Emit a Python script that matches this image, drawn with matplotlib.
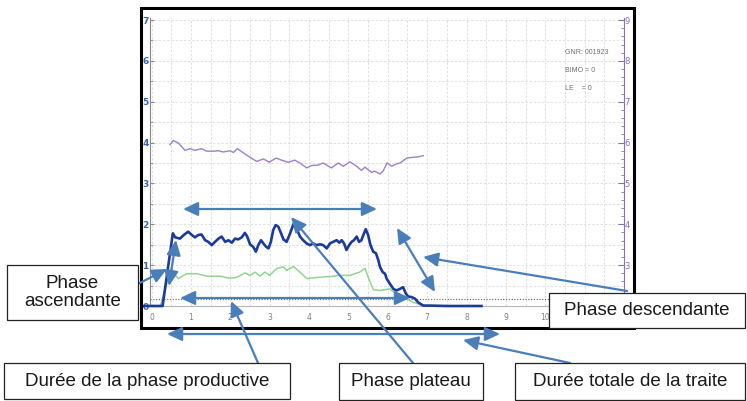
import matplotlib
matplotlib.use("Agg")
import matplotlib.pyplot as plt
from matplotlib.transforms import Affine2D
from matplotlib.patches import FancyArrowPatch, Rectangle

# ---------------- data ----------------
blue_x = [-0.22, 0.28, 0.54, 0.60, 0.72, 0.82, 0.93, 1.02, 1.10, 1.19, 1.27, 1.36, 1.44,
          1.53, 1.61, 1.70, 1.78, 1.87, 1.95, 2.04, 2.12, 2.20, 2.29, 2.37, 2.43, 2.50,
          2.58, 2.65, 2.71, 2.78, 2.84, 2.91, 2.97, 3.03, 3.09, 3.15, 3.22, 3.28, 3.35,
          3.43, 3.52, 3.60, 3.69, 3.77, 3.85, 3.94, 4.02, 4.11, 4.19, 4.28, 4.36, 4.45,
          4.53, 4.61, 4.70, 4.77, 4.83, 4.89, 4.95, 5.02, 5.08, 5.14, 5.21, 5.27, 5.33,
          5.38, 5.44, 5.50, 5.56, 5.63, 5.70, 5.76, 5.80, 5.87, 5.93, 5.97, 6.05, 6.14,
          6.22, 6.31, 6.39, 6.46, 6.52, 6.60, 6.69, 6.77, 6.90, 7.07, 7.49, 8.38]
blue_y = [0.00, 0.00, 1.78, 1.68, 1.65, 1.74, 1.82, 1.74, 1.68, 1.74, 1.75, 1.61, 1.57,
          1.49, 1.57, 1.65, 1.70, 1.57, 1.61, 1.55, 1.65, 1.63, 1.68, 1.79, 1.70, 1.51,
          1.45, 1.33, 1.49, 1.61, 1.53, 1.45, 1.41, 1.57, 1.86, 1.98, 1.94, 1.80, 1.63,
          1.57, 1.78, 2.00, 1.88, 1.70, 1.61, 1.53, 1.49, 1.53, 1.49, 1.51, 1.49, 1.41,
          1.53, 1.57, 1.61, 1.55, 1.61, 1.53, 1.37, 1.49, 1.57, 1.61, 1.70, 1.57, 1.61,
          1.74, 1.88, 1.74, 1.49, 1.33, 1.29, 1.12, 0.96, 0.83, 0.79, 0.67, 0.55, 0.42,
          0.38, 0.42, 0.46, 0.30, 0.23, 0.22, 0.18, 0.09, 0.01, 0.01, 0.00, 0.00]

green_x = [0.00, 0.22, 0.50, 0.60, 0.68, 0.89, 1.15, 1.40, 1.74, 1.99, 2.16, 2.37, 2.50,
           2.63, 2.75, 2.88, 3.00, 3.18, 3.35, 3.43, 3.60, 3.77, 3.94, 4.11, 4.36, 4.53,
           4.78, 5.04, 5.29, 5.42, 5.50, 5.63, 5.80, 6.05, 6.26, 6.48, 6.64, 6.81, 6.98]
green_y = [0.00, 0.00, 0.92, 0.75, 0.67, 0.79, 0.79, 0.73, 0.73, 0.68, 0.70, 0.81, 0.75,
           0.83, 0.73, 0.83, 0.75, 0.92, 0.96, 0.87, 0.97, 0.83, 0.67, 0.69, 0.71, 0.72,
           0.75, 0.75, 0.83, 0.92, 0.71, 0.40, 0.38, 0.42, 0.26, 0.18, 0.09, 0.04, 0.00]

purple_x = [0.47, 0.55, 0.68, 0.85, 0.98, 1.10, 1.27, 1.40, 1.57, 1.70, 1.82, 1.99, 2.08,
            2.18, 2.33, 2.50, 2.67, 2.84, 2.99, 3.16, 3.30, 3.47, 3.64, 3.77, 3.94, 4.07,
            4.23, 4.36, 4.57, 4.74, 4.87, 5.04, 5.21, 5.33, 5.42, 5.59, 5.67, 5.80, 5.88,
            5.98, 6.10, 6.22, 6.31, 6.48, 6.64, 6.77, 6.90]
purple_y = [3.95, 4.05, 3.99, 3.81, 3.85, 3.81, 3.85, 3.79, 3.79, 3.80, 3.77, 3.80, 3.76,
            3.85, 3.75, 3.64, 3.54, 3.60, 3.52, 3.62, 3.57, 3.52, 3.57, 3.50, 3.38, 3.44,
            3.45, 3.50, 3.38, 3.50, 3.42, 3.53, 3.42, 3.32, 3.40, 3.27, 3.30, 3.23, 3.30,
            3.50, 3.42, 3.48, 3.50, 3.62, 3.64, 3.65, 3.68]

threshold = 0.18
x_ticks = list(range(0, 11))
x_grid = [v / 2 for v in range(0, 24)]
left_ticks = list(range(0, 8))
right_ticks = list(range(3, 10))
info_lines = ["GNR: 001923", "BIMO = 0", "LE    = 0"]

box_labels = ["Phase\nascendante", "Durée de la phase productive", "Phase plateau",
              "Durée totale de la traite", "Phase descendante"]

# ---------------- layout ----------------
W, H = 747, 401
fig = plt.figure(figsize=(W / 100, H / 100), dpi=100)
fig.patch.set_facecolor("white")
px = Affine2D().scale(1 / W, -1 / H).translate(0, 1) + fig.transFigure

ax_l, ax_r, ax_t, ax_b = 150, 624, 18, 306
ax = fig.add_axes([ax_l / W, 1 - ax_b / H, (ax_r - ax_l) / W, (ax_b - ax_t) / H])
ax.set_xlim(-0.04, 12.0)
ax.set_ylim(0, 7.05)

grid_kw = dict(color="#dadada", lw=0.6, ls=(0, (3, 2)))
ax.set_xticks(x_ticks)
ax.set_xticks(x_grid, minor=True)
ax.set_yticks(left_ticks)
ax.set_yticks([v + 0.5 for v in left_ticks[:-1]], minor=True)
ax.grid(which="both", **grid_kw)
ax.set_axisbelow(True)

ax.tick_params(axis="x", which="both", length=0, labelsize=5.5, labelcolor="#808080", pad=5)
ax.tick_params(axis="y", which="major", direction="in", length=3, color="#8a8a8a",
               labelsize=6.5, labelcolor="#3c62b0", pad=1)
ax.tick_params(axis="y", which="minor", direction="in", length=2, color="#8a8a8a")
for lab in ax.get_yticklabels():
    lab.set_fontweight("bold")
ax.spines["top"].set_visible(False)
ax.spines["right"].set_visible(False)
ax.spines["left"].set_color("#8a8a8a")
ax.spines["bottom"].set_color("#b5b5b5")

ax.axhline(threshold, color="#606060", lw=0.8, ls=(0, (1, 1.5)), zorder=1)

ax.plot(purple_x, purple_y, color="#9b80cc", lw=1.0, zorder=3)
ax.plot(green_x, green_y, color="#92d492", lw=1.1, zorder=3)
ax.plot(blue_x, blue_y, color="#1c3a9c", lw=1.9, zorder=4, clip_on=False,
        solid_joinstyle="round")

ax2 = ax.twinx()
ax2.set_ylim(2, 9.05)
ax2.set_yticks(right_ticks)
ax2.set_yticks([v / 5 for v in range(10, 46)], minor=True)
ax2.tick_params(axis="y", which="major", direction="in", length=4, color="#8a6cc0",
                labelsize=6, labelcolor="#8a6cc0", pad=0.5)
ax2.tick_params(axis="y", which="minor", direction="in", length=2, color="#8a6cc0")
for s in ["top", "left", "bottom"]:
    ax2.spines[s].set_visible(False)
ax2.spines["right"].set_color("#8a6cc0")

for i, t in enumerate(info_lines):
    fig.text(565, 53 + i * 17.5, t, transform=px, fontsize=5, color="#707070",
             va="center", ha="left", family="Liberation Sans")

# outer chart frame
fig.add_artist(Rectangle((141, 8), 493, 320, transform=px, fill=False, ec="black",
                         lw=2.2, zorder=2))

# annotation arrows (pixel coords: x1, y1, x2, y2, style)
arrows = [
    (183, 209, 377, 209, "<|-|>"),
    (180, 298, 410, 298, "<|-|>"),
    (167, 334, 500, 334, "<|-|>"),
    (169, 286, 176, 240, "<|-|>"),
    (397, 228, 435, 292, "<|-|>"),
    (138, 284, 167, 269, "-|>"),
    (258, 363, 231, 301, "-|>"),
    (413, 363, 291, 217, "-|>"),
    (570, 363, 463, 340, "-|>"),
    (627, 291, 423, 257, "-|>"),
]
acol = "#4a7ebb"
for x1, y1, x2, y2, st in arrows:
    fig.add_artist(FancyArrowPatch(
        (x1, y1), (x2, y2), transform=px,
        arrowstyle=f"{st},head_length=0.9,head_width=0.42", mutation_scale=10,
        color=acol, lw=1.6, shrinkA=0, shrinkB=0, zorder=3))

# label boxes (pixel coords: left, top, right, bottom)
box_pos = [(7, 265, 138, 320), (4, 363, 290, 399), (339, 363, 483, 400),
           (515, 363, 745, 400), (549, 293, 745, 328)]
for lab, (l, t, r, b) in zip(box_labels, box_pos):
    fig.add_artist(Rectangle((l, t), r - l, b - t, transform=px, fc="white",
                             ec="#222222", lw=0.9, zorder=5))
    fig.text((l + r) / 2, (t + b) / 2, lab, transform=px, ha="center", va="center",
             fontsize=13.5, color="#1a1a1a", family="Liberation Sans",
             linespacing=1.05, zorder=6)

fig.savefig("out.png", dpi=100)
